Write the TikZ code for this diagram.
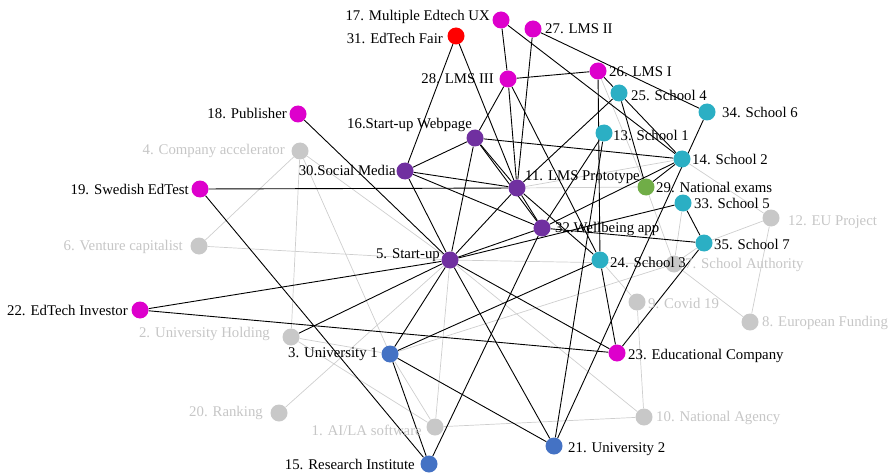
\documentclass[tikz,border=0pt]{standalone}
\usepackage{fontspec}
\setmainfont{Liberation Serif}
\usetikzlibrary{backgrounds}

\definecolor{pinkact}{RGB}{221,0,204}
\definecolor{violetact}{RGB}{112,48,160}
\definecolor{tealact}{RGB}{43,175,196}
\definecolor{blueact}{RGB}{68,114,196}
\definecolor{greenact}{RGB}{112,173,71}
\definecolor{redact}{RGB}{255,0,0}
\definecolor{greyact}{RGB}{200,200,200}
\definecolor{greytext}{RGB}{198,198,198}
\definecolor{greyline}{RGB}{206,206,206}

\begin{document}
\begin{tikzpicture}[x=1pt,y=1pt,yscale=-1,xscale=1,
  actor/.style={circle,inner sep=0pt,minimum size=17pt,draw=none},
  lbl/.style={inner sep=0pt,font=\fontsize{14.8}{17}\selectfont},
  dimlbl/.style={lbl,text=greytext},
  tie/.style={draw=black,line width=0.9pt},
  faint/.style={draw=greyline,line width=0.7pt}]
\useasboundingbox (0,0) rectangle (890,473);

%Shape: Circle (actors)
\node [actor,fill=greyact]   (n1)  at (435,427) {};
\node [actor,fill=greyact]   (n2)  at (291,337) {};
\node [actor,fill=blueact]   (n3)  at (390,354) {};
\node [actor,fill=greyact]   (n4)  at (300,151) {};
\node [actor,fill=violetact] (n5)  at (450,260) {};
\node [actor,fill=greyact]   (n6)  at (199,246) {};
\node [actor,fill=greyact]   (n7)  at (674,264) {};
\node [actor,fill=greyact]   (n8)  at (750,322) {};
\node [actor,fill=greyact]   (n9)  at (637,302) {};
\node [actor,fill=greyact]   (n10) at (644,417) {};
\node [actor,fill=violetact] (n11) at (517,188) {};
\node [actor,fill=greyact]   (n12) at (771,218) {};
\node [actor,fill=tealact]   (n13) at (604,133) {};
\node [actor,fill=tealact]   (n14) at (682,159) {};
\node [actor,fill=blueact]   (n15) at (429,464) {};
\node [actor,fill=violetact] (n16) at (475,138) {};
\node [actor,fill=pinkact]   (n17) at (501,20) {};
\node [actor,fill=pinkact]   (n18) at (298,114) {};
\node [actor,fill=pinkact]   (n19) at (200,189) {};
\node [actor,fill=greyact]   (n20) at (279,413) {};
\node [actor,fill=blueact]   (n21) at (554,446) {};
\node [actor,fill=pinkact]   (n22) at (140,310) {};
\node [actor,fill=pinkact]   (n23) at (617,353) {};
\node [actor,fill=tealact]   (n24) at (600,260) {};
\node [actor,fill=tealact]   (n25) at (619,93) {};
\node [actor,fill=pinkact]   (n26) at (598,71) {};
\node [actor,fill=pinkact]   (n27) at (533,29) {};
\node [actor,fill=pinkact]   (n28) at (508,79) {};
\node [actor,fill=greenact]  (n29) at (646,187) {};
\node [actor,fill=violetact] (n30) at (405,171) {};
\node [actor,fill=redact]    (n31) at (456,36) {};
\node [actor,fill=violetact] (n32) at (542,228) {};
\node [actor,fill=tealact]   (n33) at (683,203) {};
\node [actor,fill=tealact]   (n34) at (707,112) {};
\node [actor,fill=tealact]   (n35) at (704,243) {};

\begin{pgfonlayer}{background}
%Straight Lines (grey ties)
\draw [faint] (n4) -- (n6);
\draw [faint] (n4) -- (n2);
\draw [faint] (n4) -- (n3);
\draw [faint] (n4) -- (n5);
\draw [faint] (n6) -- (n5);
\draw [faint] (n20) -- (n5);
\draw [faint] (n2) -- (n3);
\draw [faint] (n2) -- (n1);
\draw [faint] (n3) -- (n1);
\draw [faint] (n3) -- (n7);
\draw [faint] (n5) -- (n7);
\draw [faint] (n5) -- (n1);
\draw [faint] (n5) -- (n10);
\draw [faint] (n1) -- (n10);
\draw [faint] (n10) -- (n9);
\draw [faint] (n9) -- (n24);
\draw [faint] (n7) -- (n8);
\draw [faint] (n7) -- (n33);
\draw [faint] (n7) -- (n29);
\draw [faint] (n7) -- (n35);
\draw [faint] (n12) -- (n14);
\draw [faint] (n12) -- (n35);
\draw [faint] (n12) -- (n8);
\draw [faint] (n11) -- (n29);
\draw [faint] (n11) -- (n14);
\draw [faint] (n26) -- (n29);

%Straight Lines (black ties)
\draw [tie] (n18) -- (n5);
\draw [tie] (n19) -- (n11);
\draw [tie] (n19) -- (n15);
\draw [tie] (n22) -- (n5);
\draw [tie] (n22) -- (n23);
\draw [tie] (n2) -- (n5);
\draw [tie] (n3) -- (n5);
\draw [tie] (n3) -- (n24);
\draw [tie] (n3) -- (n21);
\draw [tie] (n3) -- (n15);
\draw [tie] (n5) -- (n21);
\draw [tie] (n5) -- (n23);
\draw [tie] (n5) -- (n30);
\draw [tie] (n5) -- (n16);
\draw [tie] (n5) -- (n11);
\draw [tie] (n5) -- (n32);
\draw [tie] (n15) -- (n32);
\draw [tie] (n30) -- (n16);
\draw [tie] (n30) -- (n11);
\draw [tie] (n30) -- (n32);
\draw [tie] (n30) -- (n31);
\draw [tie] (n31) -- (n11);
\draw [tie] (n16) -- (n28);
\draw [tie] (n16) -- (n11);
\draw [tie] (n16) -- (n32);
\draw [tie] (n16) -- (n14);
\draw [tie] (n17) -- (n28);
\draw [tie] (n28) -- (n11);
\draw [tie] (n17) -- (n14);
\draw [tie] (n27) -- (n11);
\draw [tie] (n27) -- (n34);
\draw [tie] (n28) -- (n26);
\draw [tie] (n28) -- (n24);
\draw [tie] (n26) -- (n24);
\draw [tie] (n26) -- (n25);
\draw [tie] (n25) -- (n14);
\draw [tie] (n25) -- (n11);
\draw [tie] (n25) -- (n29);
\draw [tie] (n13) -- (n21);
\draw [tie] (n13) -- (n32);
\draw [tie] (n14) -- (n29);
\draw [tie] (n14) -- (n32);
\draw [tie] (n34) -- (n21);
\draw [tie] (n33) -- (n5);
\draw [tie] (n33) -- (n35);
\draw [tie] (n32) -- (n35);
\draw [tie] (n23) -- (n24);
\draw [tie] (n23) -- (n35);
\draw [tie] (n11) -- (n32);
\draw [tie] (n11) -- (n24);
\end{pgfonlayer}

% Text Node
\node [dimlbl,anchor=east] (l1)  at (422,430) {1. AI/LA software};
\node [dimlbl,anchor=east] (l2)  at (270,334) {2. University Holding};
\node [lbl,anchor=east]    (l3)  at (378,354) {3. University 1};
\node [dimlbl,anchor=east] (l4)  at (285,151) {4. Company accelerator};
\node [lbl,anchor=east]    (l5)  at (440,255) {5. Start-up};
\node [dimlbl,anchor=east] (l6)  at (183,247) {6. Venture capitalist};
\node [dimlbl,anchor=west] (l7)  at (685,265) {7. School Authority};
\node [dimlbl,anchor=west] (l8)  at (762,323) {8. European Funding};
\node [dimlbl,anchor=west] (l9)  at (648,303) {9. Covid 19};
\node [dimlbl,anchor=west] (l10) at (656,418) {10. National Agency};
\node [lbl,anchor=west]    (l11) at (525,177) {11. LMS Prototype};
\node [dimlbl,anchor=west] (l12) at (788,222) {12. EU Project};
\node [lbl,anchor=west]    (l13) at (613,135) {13. School 1};
\node [lbl,anchor=west]    (l14) at (692,159) {14. School 2};
\node [lbl,anchor=east]    (l15) at (415,464) {15. Research Institute};
\node [lbl,anchor=east]    (l16) at (472,125) {16.Start-up Webpage};
\node [lbl,anchor=east]    (l17) at (490,17)  {17. Multiple Edtech UX};
\node [lbl,anchor=east]    (l18) at (287,113) {18. Publisher};
\node [lbl,anchor=east]    (l19) at (189,189) {19. Swedish EdTest};
\node [dimlbl,anchor=east] (l20) at (263,413) {20. Ranking};
\node [lbl,anchor=west]    (l21) at (568,449) {21. University 2};
\node [lbl,anchor=east]    (l22) at (128,310) {22. EdTech Investor};
\node [lbl,anchor=west]    (l23) at (628,356) {23. Educational Company};
\node [lbl,anchor=west]    (l24) at (610,262) {24. School 3};
\node [lbl,anchor=west]    (l25) at (631,95)  {25. School 4};
\node [lbl,anchor=west]    (l26) at (609,72)  {26. LMS I};
\node [lbl,anchor=west]    (l27) at (545,29)  {27. LMS II};
\node [lbl,anchor=east]    (l28) at (494,79)  {28. LMS III};
\node [lbl,anchor=west]    (l29) at (656,187) {29. National exams};
\node [lbl,anchor=east]    (l30) at (396,170) {30.Social Media};
\node [lbl,anchor=east]    (l31) at (443,38)  {31. EdTech Fair};
\node [lbl,anchor=west]    (l32) at (555,229) {32.Wellbeing app};
\node [lbl,anchor=west]    (l33) at (694,203) {33. School 5};
\node [lbl,anchor=west]    (l34) at (722,112) {34. School 6};
\node [lbl,anchor=west]    (l35) at (714,244) {35. School 7};

\end{tikzpicture}
\end{document}
